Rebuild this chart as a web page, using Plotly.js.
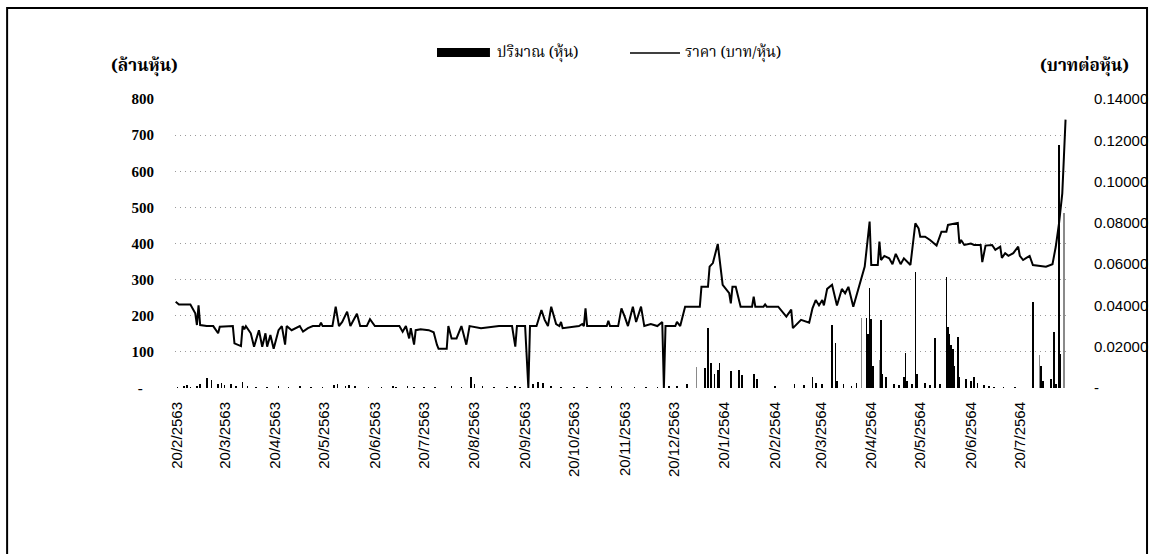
<!DOCTYPE html>
<html>
<head>
<meta charset="utf-8">
<script src="https://cdn.plot.ly/plotly-3.0.1.min.js"></script>
<style>
  html, body { margin: 0; padding: 0; background: #fff; }
  #chart { width: 1153px; height: 554px; }
</style>
</head>
<body>
<div id="chart"></div>
<script>
// ---------- DATA ----------
// Price line, baht per share (right axis)
const priceDates = [
  '2020-02-19','2020-02-21','2020-02-28','2020-03-02','2020-03-03','2020-03-04','2020-03-05','2020-03-09','2020-03-13','2020-03-16',
  '2020-03-17','2020-03-25','2020-03-26','2020-03-30','2020-03-31','2020-04-01','2020-04-02','2020-04-05','2020-04-07','2020-04-10',
  '2020-04-12','2020-04-14','2020-04-15','2020-04-17','2020-04-19','2020-04-22','2020-04-24','2020-04-26','2020-04-27','2020-04-30',
  '2020-05-05','2020-05-07','2020-05-10','2020-05-13','2020-05-17','2020-05-18','2020-05-19','2020-05-25','2020-05-27','2020-05-29',
  '2020-05-31','2020-06-03','2020-06-05','2020-06-09','2020-06-11','2020-06-15','2020-06-17','2020-06-20','2020-07-05','2020-07-07',
  '2020-07-09','2020-07-11','2020-07-12','2020-07-14','2020-07-15','2020-07-18','2020-07-23','2020-07-26','2020-07-28','2020-07-29',
  '2020-08-03','2020-08-04','2020-08-06','2020-08-09','2020-08-12','2020-08-15','2020-08-17','2020-08-24','2020-09-04','2020-09-12',
  '2020-09-14','2020-09-15','2020-09-20','2020-09-22','2020-09-23','2020-09-27','2020-09-30','2020-10-02','2020-10-04','2020-10-06',
  '2020-10-09','2020-10-11','2020-10-12','2020-10-13','2020-10-23','2020-10-25','2020-10-26','2020-10-27','2020-10-28','2020-11-09',
  '2020-11-10','2020-11-11','2020-11-16','2020-11-18','2020-11-20','2020-11-22','2020-11-25','2020-11-27','2020-11-30','2020-12-02',
  '2020-12-06','2020-12-10','2020-12-13','2020-12-14','2020-12-15','2020-12-21','2020-12-22','2020-12-24','2020-12-27','2021-01-05',
  '2021-01-06','2021-01-10','2021-01-11','2021-01-13','2021-01-16','2021-01-19','2021-01-23','2021-01-24','2021-01-25','2021-01-27',
  '2021-01-30','2021-02-06','2021-02-07','2021-02-08','2021-02-13','2021-02-14','2021-02-15','2021-02-22','2021-02-27','2021-03-02',
  '2021-03-03','2021-03-07','2021-03-08','2021-03-13','2021-03-15','2021-03-17','2021-03-19','2021-03-21','2021-03-22','2021-03-24',
  '2021-03-27','2021-03-30','2021-04-02','2021-04-04','2021-04-06','2021-04-09','2021-04-16','2021-04-19','2021-04-20','2021-04-24',
  '2021-04-25','2021-04-26','2021-04-28','2021-05-01','2021-05-03','2021-05-05','2021-05-08','2021-05-10','2021-05-14','2021-05-17',
  '2021-05-19','2021-05-20','2021-05-23','2021-05-26','2021-05-30','2021-06-02','2021-06-05','2021-06-06','2021-06-12','2021-06-13',
  '2021-06-14','2021-06-16','2021-06-20','2021-06-22','2021-06-26','2021-06-27','2021-06-29','2021-07-03','2021-07-05','2021-07-08',
  '2021-07-09','2021-07-11','2021-07-13','2021-07-16','2021-07-19','2021-07-20','2021-07-22','2021-07-24','2021-07-26','2021-07-28',
  '2021-08-05','2021-08-09','2021-08-11','2021-08-13','2021-08-15','2021-08-16','2021-08-17'
];
const priceValues = [
  0.0418,0.0405,0.0404,0.0362,0.0305,0.0400,0.0305,0.0300,0.0300,0.0265,
  0.0297,0.0300,0.0216,0.0203,0.0300,0.0285,0.0300,0.0265,0.0200,0.0280,
  0.0200,0.0265,0.0200,0.0257,0.0190,0.0280,0.0300,0.0210,0.0300,0.0280,
  0.0300,0.0273,0.0290,0.0300,0.0300,0.0316,0.0300,0.0300,0.0394,0.0300,
  0.0320,0.0370,0.0300,0.0360,0.0300,0.0300,0.0333,0.0300,0.0300,0.0273,
  0.0300,0.0240,0.0290,0.0210,0.0280,0.0285,0.0280,0.0270,0.0210,0.0190,
  0.0190,0.0300,0.0240,0.0240,0.0300,0.0210,0.0300,0.0290,0.0300,0.0300,
  0.0200,0.0300,0.0300,0.0000,0.0300,0.0300,0.0378,0.0330,0.0300,0.0394,
  0.0310,0.0300,0.0320,0.0290,0.0300,0.0310,0.0300,0.0386,0.0300,0.0300,
  0.0326,0.0300,0.0300,0.0386,0.0346,0.0300,0.0394,0.0320,0.0394,0.0300,
  0.0310,0.0300,0.0320,0.0000,0.0300,0.0300,0.0320,0.0300,0.0394,0.0394,
  0.0490,0.0490,0.0588,0.0605,0.0698,0.0500,0.0459,0.0410,0.0490,0.0490,
  0.0394,0.0394,0.0442,0.0394,0.0394,0.0405,0.0394,0.0394,0.0346,0.0380,
  0.0290,0.0320,0.0330,0.0316,0.0386,0.0426,0.0400,0.0426,0.0400,0.0480,
  0.0500,0.0400,0.0480,0.0459,0.0490,0.0394,0.0588,0.0806,0.0596,0.0596,
  0.0709,0.0620,0.0640,0.0628,0.0600,0.0650,0.0600,0.0628,0.0596,0.0798,
  0.0773,0.0733,0.0733,0.0717,0.0690,0.0757,0.0757,0.0790,0.0800,0.0700,
  0.0717,0.0693,0.0700,0.0693,0.0693,0.0610,0.0690,0.0693,0.0669,0.0685,
  0.0630,0.0653,0.0640,0.0653,0.0685,0.0640,0.0620,0.0630,0.0640,0.0596,
  0.0588,0.0600,0.0684,0.0798,0.0943,0.1120,0.1300
];

// Trading volume, million shares (left axis)
const volDates = [
  '2020-02-20','2020-02-24','2020-02-26','2020-02-28','2020-03-03','2020-03-05','2020-03-09','2020-03-12','2020-03-16','2020-03-18',
  '2020-03-20','2020-03-24','2020-03-27','2020-03-31','2020-04-03','2020-04-08','2020-04-15','2020-04-22','2020-04-28','2020-05-05',
  '2020-05-12','2020-05-19','2020-05-26','2020-05-28','2020-06-02','2020-06-04','2020-06-08','2020-06-16','2020-06-24','2020-07-01',
  '2020-07-03','2020-07-10','2020-07-14','2020-07-20','2020-07-27','2020-08-06','2020-08-12','2020-08-18','2020-08-20','2020-08-25',
  '2020-09-01','2020-09-09','2020-09-14','2020-09-17','2020-09-22','2020-09-25','2020-09-28','2020-10-01','2020-10-06','2020-10-12',
  '2020-10-20','2020-10-28','2020-11-05','2020-11-12','2020-11-18','2020-11-26','2020-12-03','2020-12-10','2020-12-17','2020-12-22',
  '2020-12-28','2021-01-03','2021-01-08','2021-01-10','2021-01-12','2021-01-14','2021-01-16','2021-01-17','2021-01-24','2021-01-29',
  '2021-01-31','2021-02-07','2021-02-09','2021-02-20','2021-03-04','2021-03-10','2021-03-15','2021-03-17','2021-03-21','2021-03-27',
  '2021-03-29','2021-03-30','2021-04-03','2021-04-08','2021-04-11','2021-04-14','2021-04-17','2021-04-18','2021-04-19','2021-04-20',
  '2021-04-21','2021-04-25','2021-04-26','2021-04-27','2021-04-29','2021-05-04','2021-05-07','2021-05-10','2021-05-11','2021-05-12',
  '2021-05-15','2021-05-17','2021-05-18','2021-05-23','2021-05-26','2021-05-29','2021-06-01','2021-06-05','2021-06-06','2021-06-07',
  '2021-06-08','2021-06-09','2021-06-10','2021-06-12','2021-06-13','2021-06-17','2021-06-20','2021-06-22','2021-06-24','2021-06-28',
  '2021-07-01','2021-07-04','2021-07-10','2021-07-17','2021-07-28','2021-08-01','2021-08-02','2021-08-03','2021-08-08','2021-08-10',
  '2021-08-11','2021-08-13','2021-08-14','2021-08-16'
];
const volValues = [
  3,5,8,4,6,12,27,22,10,14,
  8,12,6,18,5,4,3,6,3,5,
  3,4,8,10,6,9,5,3,4,5,
  3,6,4,3,4,5,3,31,10,6,
  4,3,5,4,2,12,17,15,5,4,
  3,4,3,5,4,3,4,3,6,5,
  10,59,55,165,68,40,50,68,47,50,
  35,40,25,5,10,8,30,15,12,175,
  124,20,10,5,15,193,194,150,276,190,
  60,78,188,40,30,12,8,30,97,20,
  10,322,40,15,8,138,10,308,170,150,
  120,107,60,142,30,25,20,30,15,8,
  5,4,3,3,239,91,60,20,25,156,
  10,673,95,484
];
const greyBarDates = ['2021-01-03','2021-04-14','2021-04-25','2021-08-01','2021-08-16'];
const volColors = volDates.map(function (d) {
  return greyBarDates.indexOf(d) >= 0 ? '#8a8a8a' : '#000000';
});

// Axis ticks
const xTickVals = ['2020-02-20','2020-03-20','2020-04-20','2020-05-20','2020-06-20','2020-07-20','2020-08-20','2020-09-20','2020-10-20',
  '2020-11-20','2020-12-20','2021-01-20','2021-02-20','2021-03-20','2021-04-20','2021-05-20','2021-06-20','2021-07-20'];
const xTickText = ['20/2/2563','20/3/2563','20/4/2563','20/5/2563','20/6/2563','20/7/2563','20/8/2563','20/9/2563','20/10/2563',
  '20/11/2563','20/12/2563','20/1/2564','20/2/2564','20/3/2564','20/4/2564','20/5/2564','20/6/2564','20/7/2564'];
const yLeftTickVals = [0,100,200,300,400,500,600,700,800];
const yLeftTickText = ['-\u00a0\u00a0\u00a0','100','200','300','400','500','600','700','800'];
const yRightTickVals = [0,0.02,0.04,0.06,0.08,0.10,0.12,0.14];
const yRightTickText = ['-','0.02000','0.04000','0.06000','0.08000','0.10000','0.12000','0.14000'];

const seriesNames = ['ปริมาณ (หุ้น)', 'ราคา (บาท/หุ้น)'];
const axisTitles = ['(ล้านหุ้น)', '(บาทต่อหุ้น)'];

// ---------- CHART ----------
const thaiFont = '"Noto Serif Thai", "Noto Sans Thai", "Tlwg Typo", Loma, Garuda, "DejaVu Serif", serif';

const traces = [
  {
    type: 'bar', name: seriesNames[0], x: volDates, y: volValues,
    width: 86400000, marker: { color: volColors, line: { width: 0 } },
    yaxis: 'y', showlegend: false, hoverinfo: 'x+y'
  },
  {
    type: 'scatter', mode: 'lines', name: seriesNames[1], x: priceDates, y: priceValues,
    line: { color: '#000000', width: 2 }, yaxis: 'y2', showlegend: false
  }
];

const layout = {
  width: 1153, height: 554,
  margin: { l: 175, r: 85, t: 99, b: 166, pad: 0 },
  paper_bgcolor: '#ffffff', plot_bgcolor: 'rgba(0,0,0,0)',
  showlegend: false,
  bargap: 0,
  xaxis: {
    type: 'date', range: ['2020-02-18 14:00', '2021-08-18 12:00'],
    tickmode: 'array', tickvals: xTickVals, ticktext: xTickText,
    tickangle: -90, ticks: '', showgrid: false, zeroline: false, showline: false,
    ticklabelstandoff: 10,
    tickfont: { family: '"Liberation Sans Narrow", "Liberation Sans", Arial, sans-serif', size: 15, color: '#000' }
  },
  yaxis: {
    range: [0, 800], tickmode: 'array', tickvals: yLeftTickVals, ticktext: yLeftTickText,
    ticks: '', showline: false, zeroline: false,
    showgrid: true, gridcolor: '#9a9a9a', griddash: '1px,4px', gridwidth: 1,
    ticklabelstandoff: 20,
    tickfont: { family: '"Liberation Serif", "Times New Roman", serif', size: 15, color: '#000', weight: 'bold' }
  },
  yaxis2: {
    range: [0, 0.14], overlaying: 'y', side: 'right',
    tickmode: 'array', tickvals: yRightTickVals, ticktext: yRightTickText,
    ticks: '', showline: false, zeroline: false, showgrid: false,
    ticklabelstandoff: 25,
    tickfont: { family: '"Liberation Sans", Arial, sans-serif', size: 15, color: '#000' }
  },
  shapes: [
    // outer frame of the page figure
    { type: 'rect', xref: 'paper', yref: 'paper', x0: -0.188, x1: 1.0885, y0: -0.62, y1: 1.315,
      line: { color: '#000', width: 2 }, fillcolor: 'rgba(0,0,0,0)', layer: 'below' },
    // legend: volume swatch
    { type: 'rect', xref: 'paper', yref: 'paper', x0: 0.2934, x1: 0.3527, y0: 1.1453, y1: 1.1765,
      line: { width: 0 }, fillcolor: '#000' },
    // legend: price line sample
    { type: 'line', xref: 'paper', yref: 'paper', x0: 0.5095, x1: 0.5655, y0: 1.1592, y1: 1.1592,
      line: { color: '#000', width: 1.5 } }
  ],
  annotations: [
    { xref: 'paper', yref: 'paper', x: 0.3583, y: 1.1592, xanchor: 'left', yanchor: 'middle', showarrow: false,
      text: seriesNames[0], font: { family: thaiFont, size: 15, color: '#000' } },
    { xref: 'paper', yref: 'paper', x: 0.5689, y: 1.1592, xanchor: 'left', yanchor: 'middle', showarrow: false,
      text: seriesNames[1], font: { family: thaiFont, size: 15, color: '#000' } },
    { xref: 'paper', yref: 'paper', x: -0.0336, y: 1.114, xanchor: 'center', yanchor: 'middle', showarrow: false,
      text: '<b>' + axisTitles[0] + '</b>', font: { family: thaiFont, size: 17, color: '#000' } },
    { xref: 'paper', yref: 'paper', x: 1.019, y: 1.114, xanchor: 'center', yanchor: 'middle', showarrow: false,
      text: '<b>' + axisTitles[1] + '</b>', font: { family: thaiFont, size: 17, color: '#000' } }
  ]
};

Plotly.newPlot('chart', traces, layout, { displayModeBar: false, staticPlot: true });
</script>
</body>
</html>
